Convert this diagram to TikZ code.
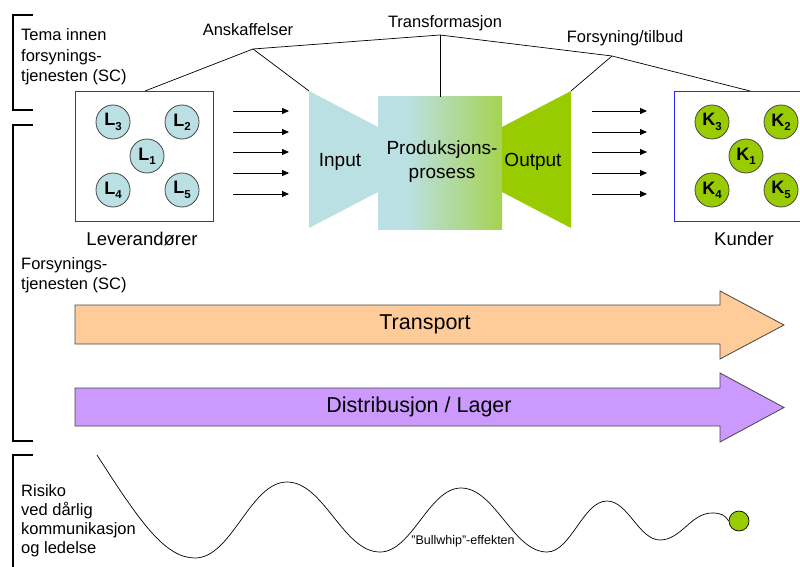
\documentclass[tikz,border=0pt]{standalone}
\usepackage{fontspec}
\setmainfont{Liberation Sans}
\usetikzlibrary{arrows.meta}

\definecolor{paleblue}{RGB}{187,224,227}
\definecolor{limegreen}{RGB}{153,204,0}
\definecolor{boxblue}{RGB}{40,40,255}
\definecolor{peach}{RGB}{255,204,153}
\definecolor{lilac}{RGB}{204,153,255}
\definecolor{edgegray}{RGB}{70,70,70}

% blue on the left, fading into green on the right
\pgfdeclarehorizontalshading{processfade}{100bp}{%
  color(0bp)=(paleblue); color(37bp)=(paleblue);
  color(96bp)=(limegreen); color(100bp)=(limegreen)}

\newcommand{\fs}[2]{\fontsize{#1}{#2}\selectfont}
\newcommand{\letsub}[2]{\textbf{#1}\raisebox{-0.45ex}{\fs{11.5}{12}\textbf{#2}}}

\tikzset{
  lbl/.style={font=\fs{16.5}{20.5}, inner sep=0pt, align=left},
  midlbl/.style={font=\fs{19}{24}, inner sep=0pt, align=center},
  bigtext/.style={font=\fs{21.5}{24}, inner sep=0pt},
  groupbox/.style={draw=boxblue, line width=1.4pt},
  supplier/.style={circle, draw=edgegray, line width=0.8pt, fill=paleblue,
    minimum size=34pt, inner sep=0pt, font=\fs{18}{18}},
  customer/.style={circle, draw=edgegray, line width=0.8pt, fill=limegreen,
    minimum size=34pt, inner sep=0pt, font=\fs{18}{18}},
  flow/.style={-{Triangle[length=7pt,width=6pt]}, line width=0.9pt},
  link/.style={line width=0.7pt},
  bracket/.style={line width=1.2pt},
  bandarrow/.style={draw=edgegray, line width=0.8pt},
}

\begin{document}
\begin{tikzpicture}[x=1pt, y=-1pt]
\useasboundingbox (0,0) rectangle (800,567);

% ---- brackets on the left
\draw[bracket] (33,15) -- (13,15) -- (13,110) -- (33,110);
\draw[bracket] (33,125) -- (13,125) -- (13,441) -- (33,441);
\draw[bracket] (33,455) -- (13,455) -- (13,567);

% ---- supplier and customer frames
\draw[groupbox] (75.5,91.5) rectangle (213.5,221.5);
\draw[groupbox] (674.5,91.5) rectangle (812.5,221.5);
\coordinate (levbox) at (144.5,156.5);
\coordinate (kunbox) at (743.5,156.5);

\node[lbl, anchor=west] (temalbl) at (21,57) {Tema innen\\forsynings-\\tjenesten (SC)};
\node[lbl, anchor=west] (sclbl) at (21,275) {Forsynings-\\tjenesten (SC)};
\node[lbl, anchor=west, font=\fs{16.5}{19}] (risklbl) at (21,520.5) {Risiko\\ved dårlig\\kommunikasjon\\og ledelse};

% ---- suppliers
\node[supplier] (L3) at (113,122) {\letsub{L}{3}};
\node[supplier] (L2) at (182,122) {\letsub{L}{2}};
\node[supplier] (L1) at (147,156) {\letsub{L}{1}};
\node[supplier] (L4) at (113,190) {\letsub{L}{4}};
\node[supplier] (L5) at (182,190) {\letsub{L}{5}};
\node[font=\fs{18.5}{20}, inner sep=0pt] (levlbl) at (142,239) {Leverandører};

% ---- customers
\node[customer] (K3) at (712,122) {\letsub{K}{3}};
\node[customer] (K2) at (781,122) {\letsub{K}{2}};
\node[customer] (K1) at (746,156) {\letsub{K}{1}};
\node[customer] (K4) at (712,190) {\letsub{K}{4}};
\node[customer] (K5) at (781,190) {\letsub{K}{5}};
\node[font=\fs{18.5}{20}, inner sep=0pt] (kunlbl) at (744,239) {Kunder};

% ---- flow arrows
\foreach \i/\y in {1/111,2/132,3/152,4/173,5/194}{
  \coordinate (ins\i) at (233,\y);
  \coordinate (ine\i) at (289,\y);
  \coordinate (outs\i) at (592,\y);
  \coordinate (oute\i) at (647,\y);
  \draw[flow] (ins\i) -- (ine\i);
  \draw[flow] (outs\i) -- (oute\i);
}

% ---- transformation: input funnel, process block, output funnel
\fill[paleblue] (309,91) -- (378,127) -- (378,192) -- (309,228) -- cycle;
\fill[limegreen] (571,91) -- (502,127) -- (502,192) -- (571,228) -- cycle;
\shade[shading=processfade] (378,97) rectangle (502,229);
\node[midlbl] (inlbl) at (340,162) {Input};
\node[midlbl] (proclbl) at (442,161.5) {Produksjons-\\prosess};
\node[midlbl] (outlbl) at (533,162) {Output};

% ---- topic tree
\coordinate (levtop) at (145,91);
\coordinate (jA) at (253,49);
\coordinate (jT) at (440,35);
\coordinate (jF) at (612,56);
\coordinate (kuntop) at (750,91);
\coordinate (intop) at (309,91);
\coordinate (proctop) at (440,97);
\coordinate (outtop) at (571,91);
\draw[link] (levtop) -- (jA) -- (jT) -- (jF) -- (kuntop);
\draw[link] (jA) -- (intop);
\draw[link] (jT) -- (proctop);
\draw[link] (jF) -- (outtop);
\node[lbl] (anslbl) at (248,30) {Anskaffelser};
\node[lbl] (translbl) at (445,23) {Transformasjon};
\node[lbl] (forslbl) at (625,38) {Forsyning/tilbud};

% ---- transport and distribution bands
\draw[bandarrow, fill=peach] (75,305) -- (720,305) -- (720,291) -- (784,325)
  -- (720,359) -- (720,344) -- (75,344) -- cycle;
\node[bigtext] (translbl2) at (425,324) {Transport};
\draw[bandarrow, fill=lilac] (75,388) -- (720,388) -- (720,373) -- (784,407.5)
  -- (720,442) -- (720,426) -- (75,426) -- cycle;
\node[bigtext] (distlbl) at (419,407) {Distribusjon / Lager};

% ---- bullwhip wave
\node[circle, draw=black, line width=0.7pt, fill=limegreen, minimum width=20pt,
  inner sep=0pt] (ball) at (739,521) {};
\draw[line width=0.7pt] (97,455) .. controls (140,522) and (165,558) .. (195,558)
  .. controls +(37,0) and +(-37,0) .. (287,482)
  .. controls +(37,0) and +(-37,0) .. (380,552)
  .. controls +(32,0) and +(-32,0) .. (461,488)
  .. controls +(34,0) and +(-34,0) .. (547,552)
  .. controls +(24,0) and +(-24,0) .. (607,501)
  .. controls +(21,0) and +(-21,0) .. (660,540)
  .. controls +(21,0) and +(-21,0) .. (712,513)
  .. controls (721,513) and (725,515) .. (ball.west);
\node[font=\fs{12.5}{14}, inner sep=0pt] (bwlbl) at (463,541) {"Bullwhip"-effekten};

\end{tikzpicture}
\end{document}
